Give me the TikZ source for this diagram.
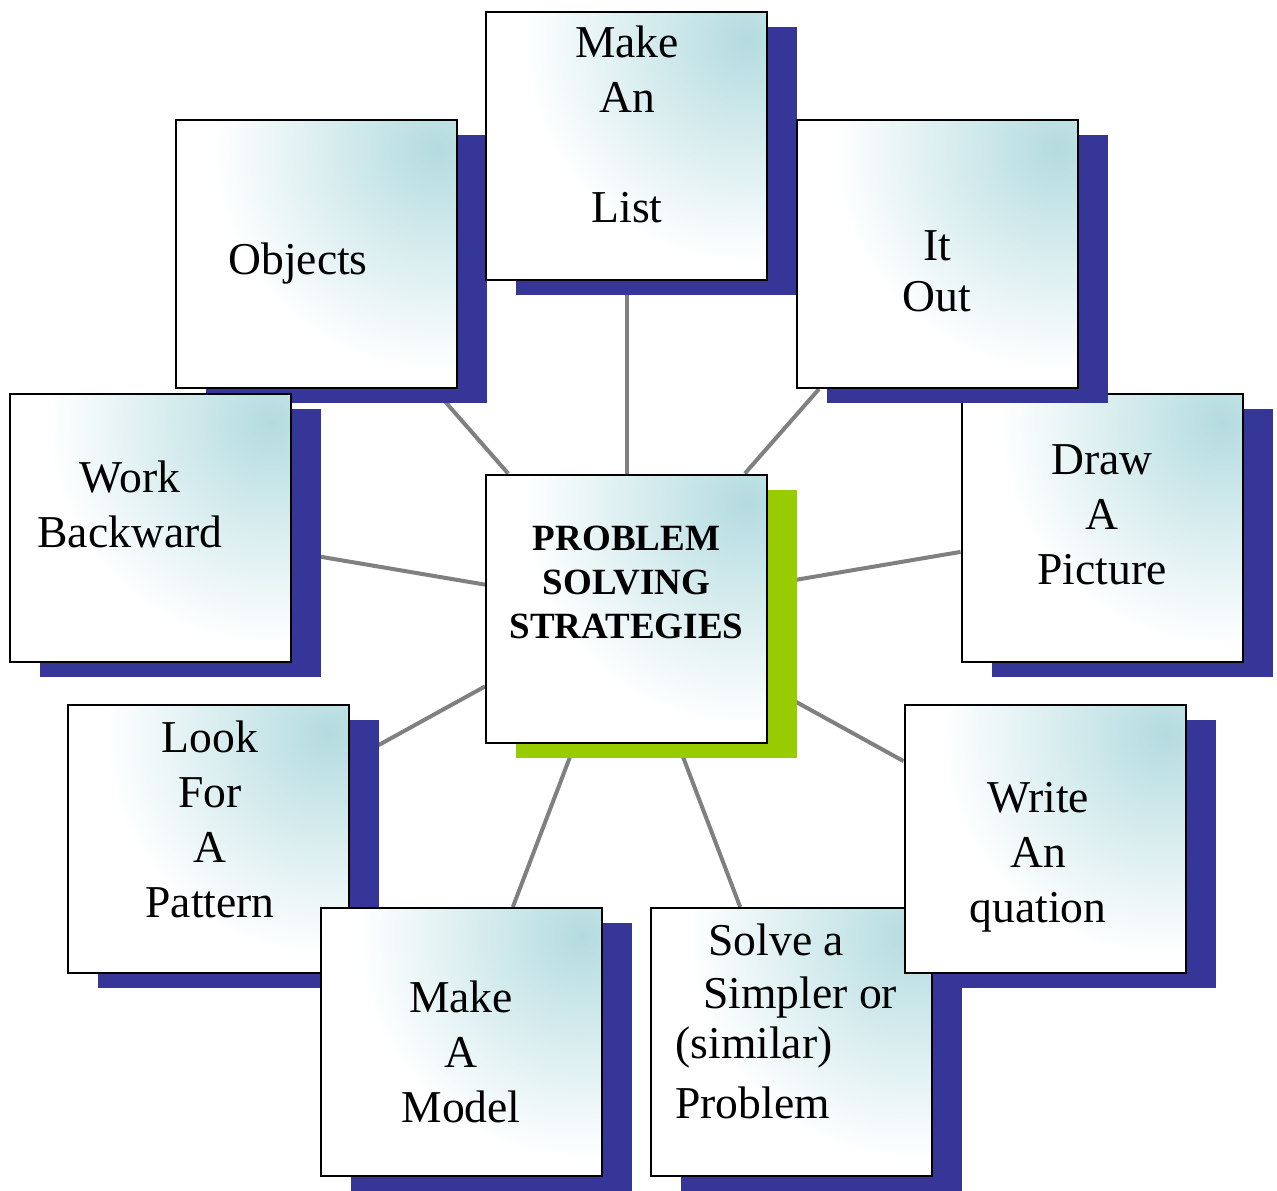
\documentclass[tikz,border=0pt]{standalone}
\usepackage{fontspec}
\setmainfont{Liberation Serif}
\usetikzlibrary{shadows,backgrounds}

\definecolor{shadowblue}{RGB}{54,54,153}
\definecolor{shadowgreen}{RGB}{153,204,0}
\definecolor{paleteal}{RGB}{180,220,224}
\definecolor{spokegray}{RGB}{128,128,128}

\begin{document}
\begin{tikzpicture}[x=0.5pt,y=-0.5pt,
    cardbox/.style={draw=black, line width=1pt, minimum width=140.5pt, minimum height=134pt, inner sep=0pt,
      path picture={
        \fill[white] (path picture bounding box.south west) rectangle (path picture bounding box.north east);
        \shade[inner color=paleteal, outer color=white]
          ([xshift=-10pt,yshift=-14pt]path picture bounding box.north east) circle (112pt);
      }},
    card/.style={cardbox, general shadow={fill=shadowblue, shadow xshift=15pt, shadow yshift=-7.5pt}},
    hub/.style={cardbox, general shadow={fill=shadowgreen, shadow xshift=15pt, shadow yshift=-7.5pt}},
    cardtext/.style={font=\fontsize{22.8pt}{27.5pt}\selectfont, align=center, anchor=base, inner sep=0pt},
    spoke/.style={draw=spokegray, line width=2pt}]
        \useasboundingbox (0,0) rectangle (1277,1190);

        \node[card] (objects) at (316,254) {};
        \node[cardtext] (objects-t) at (298,274) {Objects};
        \node[card] (work) at (150.5,528) {};
        \node[cardtext] (work-t) at (130,547) {Work\\Backward};
        \node[card] (list) at (626.5,146) {};
        \node[cardtext] (list-t) at (627,222) {Make\\An\\[27.5pt]List};
        \node[card] (draw) at (1102,528) {};
        \node[cardtext] (draw-t) at (1102,584) {Draw\\A\\Picture};
        \node[card] (itout) at (937,254) {};
        \node[cardtext] (itout-t) at (937,311) {It\\[-2pt]Out};
        \node[card] (pattern) at (208,839) {};
        \node[cardtext] (pattern-t) at (210,917) {Look\\For\\A\\Pattern};
        \node[card] (model) at (461.5,1042) {};
        \node[cardtext] (model-t) at (461,1122) {Make\\A\\Model};
        \node[card] (simpler) at (791.5,1042) {};
        \node[cardtext, align=left, anchor=base west] (simpler-t) at (675,1118)
          {\hspace*{16.5pt}Solve a\\[-1pt]\hspace*{14pt}Simpler or\\[-2.5pt](similar)\\[2.5pt]Problem};
        \node[card] (equation) at (1045,839) {};
        \node[cardtext] (equation-t) at (1038,922) {Write\\An\\quation};

        \node[hub] (hub) at (626.5,608.5) {};
        \node[cardtext, font=\fontsize{18.5pt}{22pt}\selectfont\bfseries] (hub-t) at (626.5,638)
          {PROBLEM\\SOLVING\\STRATEGIES};

        \begin{scope}[on background layer]
          \foreach \n in {list,objects,itout,work,draw,pattern,equation,model,simpler}
            \draw[spoke] (hub) -- (\n);
        \end{scope}
      \end{tikzpicture}
\end{document}
